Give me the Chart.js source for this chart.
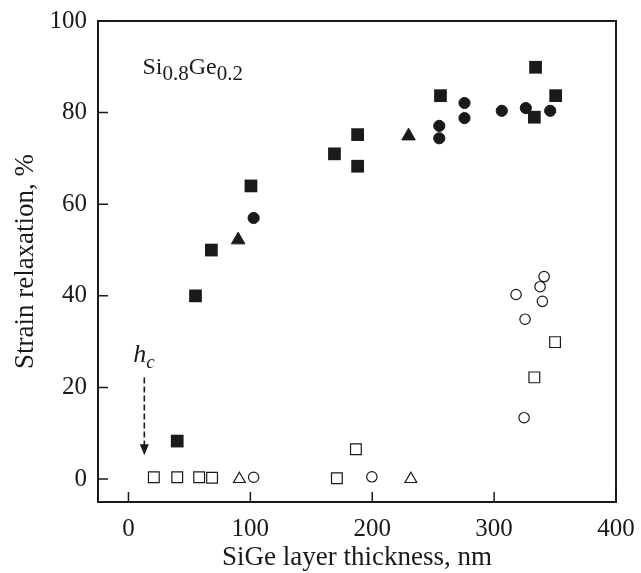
<!DOCTYPE html>
<html>
<head>
<meta charset="utf-8">
<script src="https://cdn.jsdelivr.net/npm/chart.js@4/dist/chart.umd.min.js"></script>
<style>
  html, body { margin: 0; padding: 0; background: #ffffff; }
  #wrap { width: 641px; height: 573px; }
</style>
</head>
<body>
<div id="wrap"><canvas id="c" width="641" height="573"></canvas></div>
<script>
// ---- data ----
const xTickValues = [0, 100, 200, 300, 400];
const yTickValues = [0, 20, 40, 60, 80, 100];

const filledSquaresX = [40, 55, 68, 100.5, 169, 188, 188, 256, 334, 333, 350.5];
const filledSquaresY = [8.3, 40, 50, 64, 71, 75.2, 68.3, 83.7, 89.9, 79, 83.7];

const filledCirclesX = [102.7, 255, 255, 275.7, 275.7, 306.3, 326, 346];
const filledCirclesY = [57, 77.1, 74.4, 82.1, 78.8, 80.4, 81, 80.4];

const filledTrianglesX = [90, 229.8];
const filledTrianglesY = [52.2, 74.9];

const openSquaresX = [20.8, 40, 58, 68.6, 171, 186.6, 333, 350];
const openSquaresY = [0.4, 0.4, 0.4, 0.3, 0.2, 6.5, 22.2, 29.9];

const openCirclesX = [102.7, 199.7, 324.6, 325.4, 318, 339.6, 337.7, 341];
const openCirclesY = [0.4, 0.5, 13.4, 34.9, 40.3, 38.8, 42, 44.2];

const openTrianglesX = [91, 231.7];
const openTrianglesY = [0, 0];

const xTitle = 'SiGe layer thickness, nm';
const yTitle = 'Strain relaxation, %';

// annotation anchors in data units
const hcArrowX = 13;
const hcArrowTopY = 22.2;
const hcArrowTipY = 5.2;
const hcLabelX = 4;
const hcLabelY = 25.5;
const alloyLabelX = 11.5;
const alloyLabelY = 88.5;

const INK = '#1a1a1a';
const SERIF = '"Liberation Serif", "Times New Roman", serif';

function pts(xs, ys) { return xs.map((x, i) => ({ x: x, y: ys[i] })); }

const framePlugin = {
  id: 'frameTicksNotes',
  afterDraw(chart) {
    const ctx = chart.ctx;
    const a = chart.chartArea;
    const xs = chart.scales.x, ys = chart.scales.y;
    ctx.save();
    ctx.strokeStyle = INK;
    ctx.lineWidth = 2;
    ctx.strokeRect(a.left, a.top, a.right - a.left, a.bottom - a.top);
    // inward ticks
    ctx.lineWidth = 1.5;
    ctx.beginPath();
    xTickValues.forEach(v => {
      const px = xs.getPixelForValue(v);
      ctx.moveTo(px, a.bottom);
      ctx.lineTo(px, a.bottom - 10);
    });
    yTickValues.forEach(v => {
      const py = ys.getPixelForValue(v);
      ctx.moveTo(a.left, py);
      ctx.lineTo(a.left + 10, py);
    });
    ctx.stroke();

    // h_c dashed arrow
    const ax = xs.getPixelForValue(hcArrowX);
    const ayTop = ys.getPixelForValue(hcArrowTopY);
    const ayTip = ys.getPixelForValue(hcArrowTipY);
    ctx.setLineDash([6, 3]);
    ctx.lineWidth = 1.6;
    ctx.beginPath();
    ctx.moveTo(ax, ayTop);
    ctx.lineTo(ax, ayTip - 10);
    ctx.stroke();
    ctx.setLineDash([]);
    ctx.fillStyle = INK;
    ctx.beginPath();
    ctx.moveTo(ax - 4.5, ayTip - 11);
    ctx.lineTo(ax + 4.5, ayTip - 11);
    ctx.lineTo(ax, ayTip);
    ctx.closePath();
    ctx.fill();

    // h_c label
    ctx.textBaseline = 'alphabetic';
    ctx.textAlign = 'left';
    const hx = xs.getPixelForValue(hcLabelX);
    const hy = ys.getPixelForValue(hcLabelY);
    ctx.font = 'italic 26px ' + SERIF;
    ctx.fillText('h', hx, hy);
    const hw = ctx.measureText('h').width;
    ctx.font = 'italic 19px ' + SERIF;
    ctx.fillText('c', hx + hw, hy + 6);

    // Si0.8Ge0.2 label
    let lx = xs.getPixelForValue(alloyLabelX);
    const ly = ys.getPixelForValue(alloyLabelY);
    const parts = [['Si', 24, 0], ['0.8', 21, 6], ['Ge', 24, 0], ['0.2', 21, 6]];
    parts.forEach(p => {
      ctx.font = p[1] + 'px ' + SERIF;
      ctx.fillText(p[0], lx, ly + p[2]);
      lx += ctx.measureText(p[0]).width;
    });
    ctx.restore();
  }
};

const cfg = {
  type: 'scatter',
  data: {
    datasets: [
      { label: 'filled squares', data: pts(filledSquaresX, filledSquaresY), pointStyle: 'rect', pointRadius: 9, backgroundColor: INK, borderColor: INK, borderWidth: 0 },
      { label: 'filled circles', data: pts(filledCirclesX, filledCirclesY), pointStyle: 'circle', pointRadius: 5.6, backgroundColor: INK, borderColor: INK, borderWidth: 1 },
      { label: 'filled triangles', data: pts(filledTrianglesX, filledTrianglesY), pointStyle: 'triangle', pointRadius: 7.8, backgroundColor: INK, borderColor: INK, borderWidth: 1 },
      { label: 'open squares', data: pts(openSquaresX, openSquaresY), pointStyle: 'rect', pointRadius: 7.6, backgroundColor: '#ffffff', borderColor: INK, borderWidth: 1.2 },
      { label: 'open circles', data: pts(openCirclesX, openCirclesY), pointStyle: 'circle', pointRadius: 5.2, backgroundColor: '#ffffff', borderColor: INK, borderWidth: 1.2 },
      { label: 'open triangles', data: pts(openTrianglesX, openTrianglesY), pointStyle: 'triangle', pointRadius: 6.8, backgroundColor: '#ffffff', borderColor: INK, borderWidth: 1.2 }
    ]
  },
  options: {
    responsive: false,
    animation: false,
    devicePixelRatio: 1,
    layout: { padding: { top: 21, right: 25, left: 0, bottom: 0 } },
    plugins: { legend: { display: false }, tooltip: { enabled: false } },
    elements: { point: { hoverRadius: 0 } },
    scales: {
      x: {
        type: 'linear',
        min: -25, max: 400,
        afterBuildTicks: s => { s.ticks = xTickValues.map(v => ({ value: v })); },
        afterFit: s => { s.height = 71; s.paddingLeft = 0; s.paddingRight = 0; },
        grid: { display: false, drawTicks: false },
        border: { display: false },
        ticks: { color: INK, padding: 12, maxRotation: 0, autoSkip: false, font: { family: SERIF, size: 25 } },
        title: { display: true, text: xTitle, color: INK, padding: { top: 0, bottom: -1 }, font: { family: SERIF, size: 27 } }
      },
      y: {
        type: 'linear',
        min: -5, max: 100,
        afterBuildTicks: s => { s.ticks = yTickValues.map(v => ({ value: v })); },
        afterFit: s => { s.width = 98; s.paddingTop = 0; s.paddingBottom = 0; },
        grid: { display: false, drawTicks: false },
        border: { display: false },
        ticks: { color: INK, padding: 11, autoSkip: false, font: { family: SERIF, size: 25 } },
        title: { display: true, text: yTitle, color: INK, padding: { top: 10, bottom: 0 }, font: { family: SERIF, size: 27 } }
      }
    }
  },
  plugins: [framePlugin]
};

new Chart(document.getElementById('c'), cfg);
</script>
</body>
</html>
